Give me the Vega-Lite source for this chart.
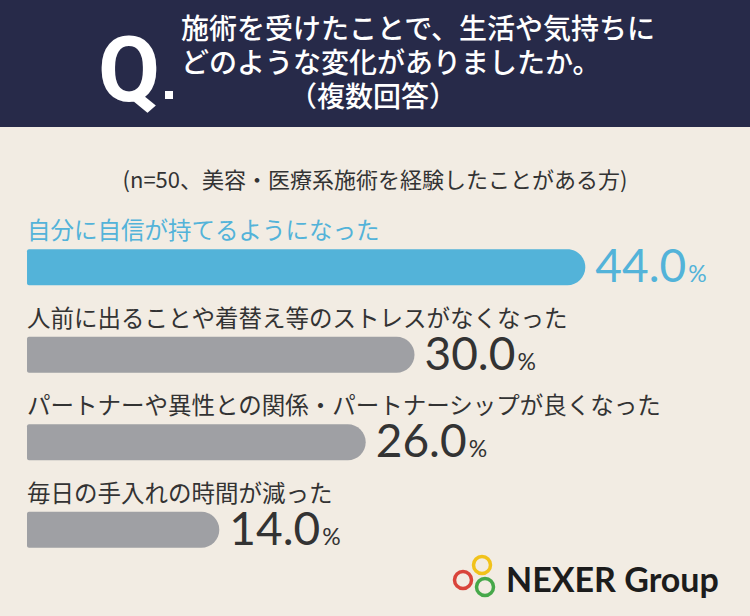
{
  "$schema": "https://vega.github.io/schema/vega-lite/v6.json",
  "width": 750,
  "height": 616,
  "autosize": {"type": "fit", "contains": "padding"},
  "padding": 0,
  "background": "#f2ece3",
  "config": {"view": {"stroke": null}, "font": "Noto Sans CJK JP"},
  "data": {
    "values": [
      {"item": "自分に自信が持てるようになった", "pct": 44.0, "highlight": true},
      {"item": "人前に出ることや着替え等のストレスがなくなった", "pct": 30.0, "highlight": false},
      {"item": "パートナーや異性との関係・パートナーシップが良くなった", "pct": 26.0, "highlight": false},
      {"item": "毎日の手入れの時間が減った", "pct": 14.0, "highlight": false}
    ]
  },
  "layer": [
    {
      "data": {"values": [{}]},
      "mark": {"type": "rect", "color": "#272a49"},
      "encoding": {"x": {"value": 0}, "x2": {"value": 750}, "y": {"value": 0}, "y2": {"value": 127}}
    },
    {
      "data": {"values": [{}]},
      "mark": {"type": "text", "text": "Q", "font": "Roboto", "fontWeight": "bold", "fontSize": 90, "color": "#ffffff", "align": "left", "baseline": "alphabetic"},
      "encoding": {"x": {"value": 98}, "y": {"value": 101}}
    },
    {
      "data": {"values": [{}]},
      "mark": {"type": "square", "size": 64, "color": "#ffffff", "filled": true, "opacity": 1},
      "encoding": {"x": {"value": 169}, "y": {"value": 95}}
    },
    {
      "data": {"values": [{}]},
      "mark": {"type": "text", "text": "施術を受けたことで、生活や気持ちに", "fontSize": 28, "fontWeight": 500, "color": "#ffffff", "align": "left", "baseline": "middle"},
      "encoding": {"x": {"value": 181}, "y": {"value": 31}}
    },
    {
      "data": {"values": [{}]},
      "mark": {"type": "text", "text": "どのような変化がありましたか。", "fontSize": 28, "fontWeight": 500, "color": "#ffffff", "align": "left", "baseline": "middle"},
      "encoding": {"x": {"value": 181}, "y": {"value": 65}}
    },
    {
      "data": {"values": [{}]},
      "mark": {"type": "text", "text": "（複数回答）", "fontSize": 28, "fontWeight": 500, "color": "#ffffff", "align": "center", "baseline": "middle"},
      "encoding": {"x": {"value": 373}, "y": {"value": 99}}
    },
    {
      "data": {"values": [{}]},
      "mark": {"type": "text", "text": "(n=50、美容・医療系施術を経験したことがある方)", "fontSize": 22, "color": "#333333", "align": "center", "baseline": "middle"},
      "encoding": {"x": {"value": 375}, "y": {"value": 181}}
    },
    {
      "mark": {"type": "bar", "size": 36, "cornerRadiusTopRight": 18, "cornerRadiusBottomRight": 18, "cornerRadiusTopLeft": 2, "cornerRadiusBottomLeft": 2},
      "encoding": {
        "y": {"field": "item", "type": "nominal", "sort": null, "scale": {"range": [223.5, 573.5], "paddingInner": 0, "paddingOuter": 0}, "axis": null},
        "x": {"field": "pct", "type": "quantitative", "scale": {"domain": [-3.975, 57.5], "nice": false, "zero": false}, "axis": null},
        "x2": {"datum": -1.76},
        "color": {"condition": {"test": "datum.highlight", "value": "#53b3d9"}, "value": "#9fa0a4"}
      }
    },
    {
      "mark": {"type": "text", "fontSize": 23.5, "align": "left", "baseline": "middle", "dy": -35},
      "encoding": {
        "y": {"field": "item", "type": "nominal", "sort": null},
        "x": {"datum": -1.76, "type": "quantitative"},
        "text": {"field": "item"},
        "color": {"condition": {"test": "datum.highlight", "value": "#53b3d9"}, "value": "#333333"}
      }
    },
    {
      "mark": {"type": "text", "font": "Lato", "fontSize": 46, "align": "left", "baseline": "alphabetic", "dx": 10, "dy": 15},
      "encoding": {
        "y": {"field": "item", "type": "nominal", "sort": null},
        "x": {"field": "pct", "type": "quantitative"},
        "text": {"field": "pct", "format": ".1f"},
        "color": {"condition": {"test": "datum.highlight", "value": "#53b3d9"}, "value": "#333333"}
      }
    },
    {
      "mark": {"type": "text", "text": "%", "font": "Lato", "fontSize": 23, "align": "left", "baseline": "alphabetic", "dx": 103, "dy": 15},
      "encoding": {
        "y": {"field": "item", "type": "nominal", "sort": null},
        "x": {"field": "pct", "type": "quantitative"},
        "color": {"condition": {"test": "datum.highlight", "value": "#53b3d9"}, "value": "#333333"}
      }
    },
    {
      "data": {"values": [{}]},
      "mark": {"type": "point", "shape": "circle", "filled": false, "size": 289, "strokeWidth": 3.5, "opacity": 1, "color": "#f1c21b"},
      "encoding": {"x": {"value": 482}, "y": {"value": 565}}
    },
    {
      "data": {"values": [{}]},
      "mark": {"type": "point", "shape": "circle", "filled": false, "size": 289, "strokeWidth": 3.5, "opacity": 1, "color": "#d9443b"},
      "encoding": {"x": {"value": 463}, "y": {"value": 580}}
    },
    {
      "data": {"values": [{}]},
      "mark": {"type": "point", "shape": "circle", "filled": false, "size": 289, "strokeWidth": 3.5, "opacity": 1, "color": "#46a84a"},
      "encoding": {"x": {"value": 485}, "y": {"value": 587}}
    },
    {
      "data": {"values": [{}]},
      "mark": {"type": "text", "text": "NEXER Group", "font": "Lato", "fontWeight": "bold", "fontSize": 34, "color": "#1c1c1c", "align": "left", "baseline": "alphabetic"},
      "encoding": {"x": {"value": 506}, "y": {"value": 592}}
    }
  ]
}
